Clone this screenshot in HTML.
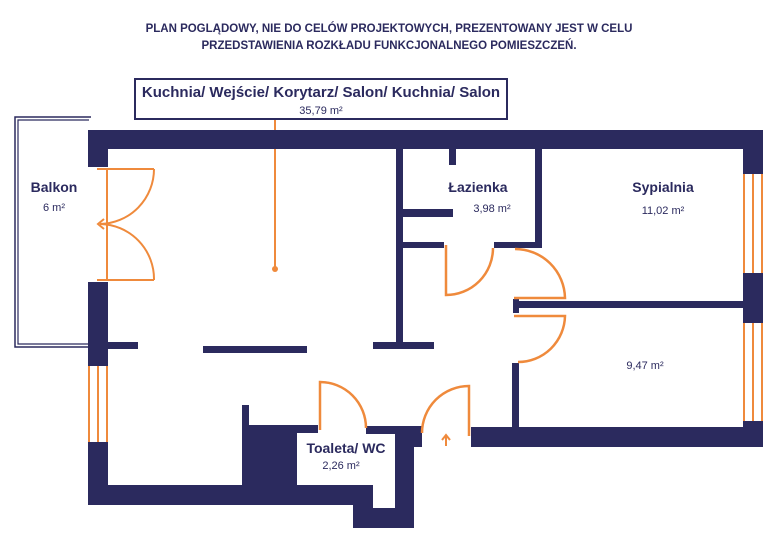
<!DOCTYPE html>
<html><head><meta charset="utf-8"><style>
html,body{margin:0;padding:0;background:#fff;width:778px;height:550px;overflow:hidden}
svg{display:block}
text{font-family:"Liberation Sans",sans-serif;fill:#2b2a5e}
.b{font-weight:bold}
</style></head><body>
<svg width="778" height="550" viewBox="0 0 778 550" xmlns="http://www.w3.org/2000/svg">
<text x="389" y="32" text-anchor="middle" class="b" font-size="11.5">PLAN POGLĄDOWY, NIE DO CELÓW PROJEKTOWYCH, PREZENTOWANY JEST W CELU</text>
<text x="389" y="49" text-anchor="middle" class="b" font-size="11.5">PRZEDSTAWIENIA ROZKŁADU FUNKCJONALNEGO POMIESZCZEŃ.</text>
<rect x="135" y="79" width="372" height="40" fill="#fff" stroke="#2b2a5e" stroke-width="2"/>
<text x="321" y="97" text-anchor="middle" class="b" font-size="15">Kuchnia/ Wejście/ Korytarz/ Salon/ Kuchnia/ Salon</text>
<text x="321" y="114" text-anchor="middle" font-size="11">35,79 m²</text>
<line x1="275" y1="120" x2="275" y2="269" stroke="#ef8a3c" stroke-width="2"/>
<circle cx="275" cy="269" r="3" fill="#ef8a3c"/>
<path d="M91,117 H15 V347 H88" fill="none" stroke="#2b2a5e" stroke-width="1.5"/>
<path d="M89,120 H18 V344 H88" fill="none" stroke="#2b2a5e" stroke-width="1.2"/>
<g fill="#2b2a5e">
<rect x="88" y="130" width="675" height="19"/>
<rect x="88" y="130" width="20" height="37"/>
<rect x="88" y="282" width="20" height="84"/>
<rect x="88" y="442" width="20" height="63"/>
<rect x="88" y="485" width="285" height="20"/>
<rect x="353" y="485" width="20" height="43"/>
<rect x="353" y="508" width="61" height="20"/>
<rect x="395" y="426" width="19" height="102"/>
<rect x="248" y="425" width="49" height="80"/>
<rect x="242" y="405" width="7" height="100"/>
<rect x="248" y="425" width="70" height="8"/>
<rect x="366" y="426" width="56" height="8"/>
<rect x="395" y="426" width="27" height="21"/>
<rect x="471" y="427" width="292" height="20"/>
<rect x="743" y="130" width="20" height="44"/>
<rect x="743" y="273" width="20" height="50"/>
<rect x="743" y="421" width="20" height="26"/>
<rect x="108" y="342" width="30" height="7"/>
<rect x="203" y="346" width="104" height="7"/>
<rect x="373" y="342" width="61" height="7"/>
<rect x="396" y="149" width="7" height="196"/>
<rect x="449" y="149" width="7" height="16"/>
<rect x="403" y="209" width="50" height="8"/>
<rect x="403" y="242" width="41" height="6"/>
<rect x="494" y="242" width="48" height="6"/>
<rect x="535" y="149" width="7" height="99"/>
<rect x="513" y="301" width="230" height="7"/>
<rect x="513" y="299" width="6" height="14"/>
<rect x="512" y="363" width="7" height="64"/>
</g>
<g fill="none" stroke="#ef8a3c" stroke-width="2">
<line x1="89" y1="366" x2="89" y2="442"/><line x1="98" y1="366" x2="98" y2="442"/><line x1="107" y1="366" x2="107" y2="442"/>
<line x1="744" y1="174" x2="744" y2="273"/><line x1="753" y1="174" x2="753" y2="273"/><line x1="762" y1="174" x2="762" y2="273"/>
<line x1="744" y1="323" x2="744" y2="421"/><line x1="753" y1="323" x2="753" y2="421"/><line x1="762" y1="323" x2="762" y2="421"/>
<path d="M97,169 H154 M97,280 H154 M107,169 V280"/>
<path d="M154,169 A55,55 0 0 1 100,224 A55,55 0 0 1 154,280"/>
<path d="M104,219 L98,224 L104,229"/>
<path d="M446,245 V295 A47,47 0 0 0 493,248" stroke-width="2.5"/>
<path d="M514,298 H565 A50,50 0 0 0 515,249" stroke-width="2.5"/>
<path d="M514,316 H565 A47,47 0 0 1 518,362" stroke-width="2.5"/>
<path d="M469,436 V386 A47,47 0 0 0 422,433" stroke-width="2.5"/>
<path d="M446,446 V436 M442,440 L446,435 L450,440"/>
<path d="M320,430 V382 A46,46 0 0 1 366,428" stroke-width="2.5"/>
</g>
<text x="54" y="192" text-anchor="middle" class="b" font-size="14">Balkon</text>
<text x="54" y="211" text-anchor="middle" font-size="11">6 m²</text>
<text x="478" y="192" text-anchor="middle" class="b" font-size="14">Łazienka</text>
<text x="492" y="212" text-anchor="middle" font-size="11">3,98 m²</text>
<text x="663" y="192" text-anchor="middle" class="b" font-size="14">Sypialnia</text>
<text x="663" y="214" text-anchor="middle" font-size="11">11,02 m²</text>
<text x="645" y="369" text-anchor="middle" font-size="11">9,47 m²</text>
<text x="346" y="453" text-anchor="middle" class="b" font-size="14">Toaleta/ WC</text>
<text x="341" y="469" text-anchor="middle" font-size="11">2,26 m²</text>
</svg>
</body></html>
